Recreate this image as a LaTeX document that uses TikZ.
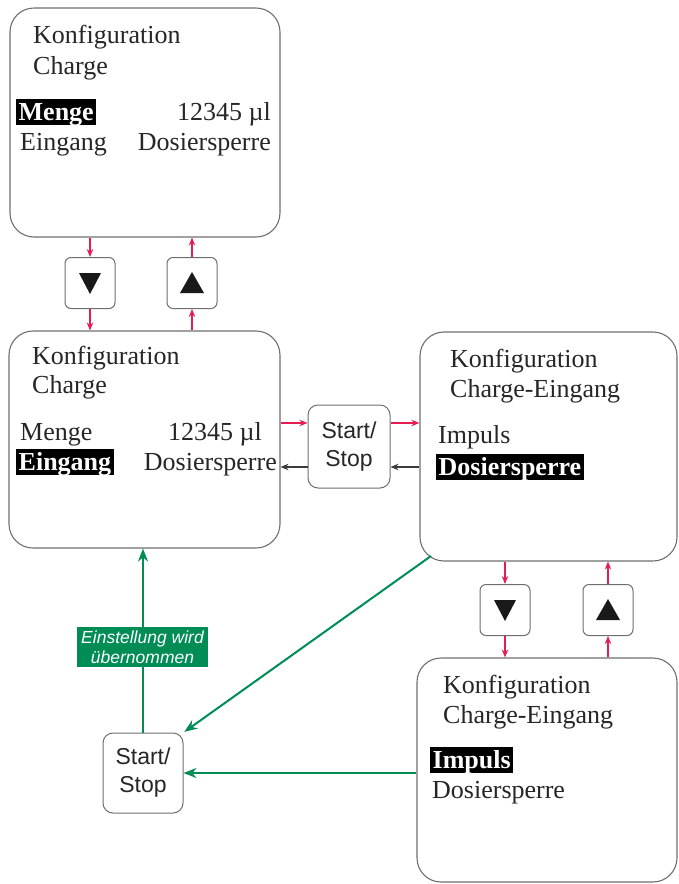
\documentclass[tikz,border=0pt]{standalone}
\usepackage{fontspec}
\setmainfont{Liberation Serif}
\newfontfamily\arialfont{Liberation Sans}
\usetikzlibrary{arrows.meta,calc}
\definecolor{boxgray}{RGB}{110,110,110}
\definecolor{pinkred}{RGB}{228,30,85}
\definecolor{darkarr}{RGB}{60,60,60}
\definecolor{grn}{RGB}{0,140,85}
\begin{document}
\begin{tikzpicture}[x=1pt,y=-1pt,
  screen/.style={draw=boxgray, line width=1.1pt, rounded corners=24pt, rectangle, inner sep=0pt},
  btnbox/.style={draw=boxgray, line width=1pt, rounded corners=6pt, rectangle, inner sep=0pt, minimum width=50pt, minimum height=51pt},
  ssbox/.style={draw=boxgray, line width=1pt, rounded corners=10pt, rectangle, inner sep=0pt, align=center,
     font=\arialfont\fontsize{23}{28}\selectfont, text=black!85},
  txt/.style={anchor=base west, inner sep=0pt, font=\fontsize{26}{31}\selectfont, text=black!85},
  txtr/.style={txt, anchor=base east},
  hl/.style={anchor=base west, inner xsep=2.5pt, inner ysep=0pt, fill=black, text=white,
     font=\bfseries\fontsize{26}{31}\selectfont, text height=21pt, text depth=5pt},
  redarr/.style={draw=pinkred, line width=1.1pt, -{Stealth[length=8pt,width=6.5pt]}},
  darkarrow/.style={draw=darkarr, line width=1.1pt, -{Stealth[length=8pt,width=6.5pt]}},
  grnarr/.style={draw=grn, line width=2pt, -{Stealth[length=13pt,width=10pt]}},
  tri/.style={fill=black!90}
]
\useasboundingbox (0,0) rectangle (678,884);

% screens
\node[screen, minimum width=270pt, minimum height=229pt] (box1) at (145,122.5) {};
\node[screen, minimum width=271pt, minimum height=217pt] (box2) at (144.5,439.5) {};
\node[screen, minimum width=257pt, minimum height=229pt] (box3) at (548.5,446.5) {};
\node[screen, minimum width=260pt, minimum height=224pt] (box4) at (547,770) {};

% buttons
\node[btnbox] (btn1) at (90,283) {};
\node[btnbox] (btn2) at (192,283) {};
\node[btnbox] (btn3) at (505,610) {};
\node[btnbox] (btn4) at (608,610) {};
\fill[tri] (btn1.center) ++(-11,-10) -- ++(22,0) -- ++(-11,21) -- cycle;
\fill[tri] (btn2.center) ++(-12,10) -- ++(24,0) -- ++(-12,-21) -- cycle;
\fill[tri] (btn3.center) ++(-11,-10) -- ++(22,0) -- ++(-11,21) -- cycle;
\fill[tri] (btn4.center) ++(-12,10) -- ++(24,0) -- ++(-12,-21) -- cycle;

% start/stop
\node[ssbox, minimum width=82pt, minimum height=83pt] (ss1) at (349,446.5) {Start/\\Stop};
\node[ssbox, minimum width=80pt, minimum height=80pt] (ss2) at (143,773) {Start/\\Stop};

% texts box1
\node[txt] (t1a) at (33,43) {Konfiguration};
\node[txt] (t1b) at (33,74) {Charge};
\node[hl] (t1c) at (16,120) {Menge};
\node[txtr] (t1d) at (271,120) {12345 µl};
\node[txt] (t1e) at (20,150) {Eingang};
\node[txtr] (t1f) at (271,150) {Dosiersperre};

% texts box2
\node[txt] (t2a) at (32,364) {Konfiguration};
\node[txt] (t2b) at (32,393) {Charge};
\node[txt] (t2c) at (20,440) {Menge};
\node[txtr] (t2d) at (262,440) {12345 µl};
\node[hl] (t2e) at (16,470) {Eingang};
\node[txtr] (t2f) at (277,470) {Dosiersperre};

% texts box3
\node[txt] (t3a) at (450,367) {Konfiguration};
\node[txt] (t3b) at (450,397) {Charge-Eingang};
\node[txt] (t3c) at (438,443) {Impuls};
\node[hl] (t3d) at (436,475) {Dosiersperre};

% texts box4
\node[txt] (t4a) at (443,693) {Konfiguration};
\node[txt] (t4b) at (443,723) {Charge-Eingang};
\node[hl] (t4c) at (430,768) {Impuls};
\node[txt] (t4d) at (432,798) {Dosiersperre};

% red arrows between screens and buttons
\draw[redarr] (box1.south -| btn1) -- (btn1.north);
\draw[redarr] (btn1.south) -- (box2.north -| btn1);
\draw[redarr] (box2.north -| btn2) -- (btn2.south);
\draw[redarr] (btn2.north) -- (box1.south -| btn2);
\draw[redarr] (box3.south -| btn3) -- (btn3.north);
\draw[redarr] (btn3.south) -- (box4.north -| btn3);
\draw[redarr] (box4.north -| btn4) -- (btn4.south);
\draw[redarr] (btn4.north) -- (box3.south -| btn4);

% middle start/stop arrows
\coordinate (ry) at (0,423);
\coordinate (gy) at (0,467);
\draw[redarr] (box2.east |- ry) -- (ss1.west |- ry);
\draw[redarr] (ss1.east |- ry) -- (box3.west |- ry);
\draw[darkarrow] (box3.west |- gy) -- (ss1.east |- gy);
\draw[darkarrow] (ss1.west |- gy) -- (box2.east |- gy);

% green arrows
\coordinate (d1) at (431,556);
\draw[grnarr] (ss2.north) -- (box2.south -| ss2);
\draw[grnarr] (box4.west |- ss2) -- (ss2.east);
\draw[grnarr, shorten >=1pt] (d1) -- (ss2.north east);
\node[fill=grn, inner sep=0pt, minimum width=131pt, minimum height=40pt, align=center, text=white,
  font=\arialfont\itshape\fontsize{17.5}{20}\selectfont] (lbl) at (142.5,647) {Einstellung wird\\übernommen};
\end{tikzpicture}
\end{document}
